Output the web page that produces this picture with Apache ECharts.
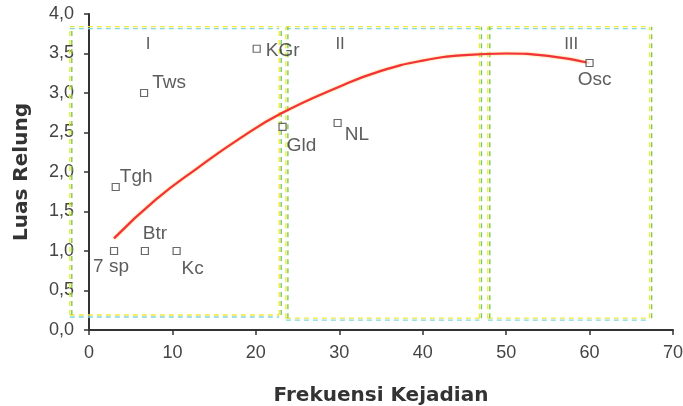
<!DOCTYPE html>
<html>
<head>
<meta charset="utf-8">
<script src="https://cdn.jsdelivr.net/npm/echarts@6/dist/echarts.min.js"></script>
<style>
  html, body { margin: 0; padding: 0; background: #fff; }
  #chart { width: 683px; height: 406px; }
</style>
</head>
<body>
<div id="chart"></div>
<script>
// Species observations: frequency of occurrence vs niche breadth
var speciesNames = ['7 sp', 'Btr', 'Kc', 'Tgh', 'Tws', 'KGr', 'Gld', 'NL', 'Osc'];
var speciesFreq  = [3, 6.7, 10.5, 3.2, 6.6, 20.1, 23.2, 29.8, 60];
var speciesNiche = [1.0, 1.0, 1.0, 1.81, 3.0, 3.56, 2.57, 2.62, 3.38];

var trendFreq  = [3, 8, 13, 18, 23, 30, 35, 40, 45, 50, 55, 60];
var trendNiche = [1.16, 1.65, 2.05, 2.42, 2.74, 3.08, 3.28, 3.41, 3.48, 3.5, 3.47, 3.38];

// Group boxes: [xStart, xEnd, yBottom, yTop]
var groupNames = ['I', 'II', 'III'];
var groupBoxes = [
  [-2.3, 22.8, 0.19, 3.84],
  [23.6, 46.8, 0.15, 3.84],
  [47.8, 67.2, 0.15, 3.84]
];
var groupLabelPos = [[7.1, 3.62], [30.1, 3.62], [57.8, 3.62]];

// Axis ticks
var xTicks = [0, 10, 20, 30, 40, 50, 60, 70];
var yTicks = [0, 0.5, 1, 1.5, 2, 2.5, 3, 3.5, 4];

var labelLayouts = {
  '7 sp': { position: 'bottom', distance: 2, offset: [-3, 0] },
  'Btr':  { position: 'top', distance: 4, offset: [10, 0] },
  'Kc':   { position: 'bottom', distance: 4, offset: [16, 0] },
  'Tgh':  { position: 'right', distance: 0, offset: [0, -10] },
  'Tws':  { position: 'right', distance: 4, offset: [0, -10] },
  'KGr':  { position: 'right', distance: 5, offset: [0, 2] },
  'Gld':  { position: 'bottom', distance: 5, offset: [19, 0] },
  'NL':   { position: 'right', distance: 3, offset: [0, 12] },
  'Osc':  { position: 'bottom', distance: 3, offset: [5, 0] }
};

var textFont = 'Liberation Sans, Arial, sans-serif';

var scatterData = speciesNames.map(function (n, i) {
  var l = labelLayouts[n];
  return {
    value: [speciesFreq[i], speciesNiche[i]],
    name: n,
    label: { show: true, formatter: n, position: l.position, distance: l.distance, offset: l.offset }
  };
});

var trendData = trendFreq.map(function (x, i) { return [x, trendNiche[i]]; });

// Dashed double-coloured outline for each group box
function renderBox(params, api) {
  var p0 = api.coord([api.value(0), api.value(2)]);
  var p1 = api.coord([api.value(1), api.value(3)]);
  var l = p0[0], r = p1[0], b = p0[1], t = p1[1];
  var dash = [5, 4];
  function seg(x1, y1, x2, y2, color) {
    return {
      type: 'line',
      shape: { x1: x1, y1: y1, x2: x2, y2: y2 },
      style: { stroke: color, lineWidth: 1.4, lineDash: dash, fill: null }
    };
  }
  return {
    type: 'group',
    children: [
      // horizontal edges: cyan under yellow
      seg(l, t + 2, r, t + 2, '#7fd6dc'),
      seg(l, b + 2, r, b + 2, '#7fd6dc'),
      seg(l, t, r, t, '#eeea3a'),
      seg(l, b, r, b, '#eeea3a'),
      // vertical edges: green beside yellow
      seg(l + 2, b, l + 2, t, '#7cc95a'),
      seg(r + 2, b, r + 2, t, '#7cc95a'),
      seg(l, b, l, t, '#eeea3a'),
      seg(r, b, r, t, '#eeea3a')
    ]
  };
}

var fmt = function (v) { return v.toFixed(1).replace('.', ','); };

var chart = echarts.init(document.getElementById('chart'), null, { renderer: 'canvas' });
chart.setOption({
  animation: false,
  backgroundColor: '#ffffff',
  grid: { left: 89, right: 10, top: 14, bottom: 76, containLabel: false, outerBoundsMode: 'none' },
  xAxis: {
    type: 'value', min: xTicks[0], max: xTicks[xTicks.length - 1], interval: 10,
    name: 'Frekuensi Kejadian', nameLocation: 'middle', nameGap: 56,
    nameTextStyle: { fontFamily: 'DejaVu Sans', fontWeight: 'bold', fontSize: 20, color: '#333' },
    axisLine: { show: true, lineStyle: { color: '#333', width: 2 } },
    axisTick: { show: true, inside: false, length: 5, lineStyle: { color: '#333', width: 1.5 } },
    axisLabel: { margin: 14, fontFamily: textFont, fontSize: 18, color: '#444' },
    splitLine: { show: false }
  },
  yAxis: {
    type: 'value', min: yTicks[0], max: yTicks[yTicks.length - 1], interval: 0.5,
    name: 'Luas Relung', nameLocation: 'middle', nameGap: 57, nameRotate: 90,
    nameTextStyle: { fontFamily: 'DejaVu Sans', fontWeight: 'bold', fontSize: 20, color: '#333' },
    axisLine: { show: true, lineStyle: { color: '#333', width: 2 } },
    axisTick: { show: true, inside: false, length: 5, lineStyle: { color: '#333', width: 1.5 } },
    axisLabel: { margin: 15, fontFamily: textFont, fontSize: 18, color: '#444', formatter: fmt },
    splitLine: { show: false }
  },
  series: [
    {
      type: 'custom', data: groupBoxes, renderItem: renderBox, clip: false, silent: true, z: 1,
      encode: { x: [0, 1], y: [2, 3] }
    },
    {
      type: 'line', data: trendData, smooth: true, symbol: 'none', z: 3, silent: true,
      lineStyle: { color: '#f2323c', width: 2.2,
        shadowColor: 'rgba(255,190,40,0.9)', shadowBlur: 2 }
    },
    {
      type: 'scatter', data: scatterData, symbol: 'rect', symbolSize: 7, z: 4,
      itemStyle: { color: '#fff', borderColor: '#444', borderWidth: 1.2 },
      label: { fontFamily: textFont, fontSize: 19, color: '#333' }
    },
    {
      type: 'scatter', symbolSize: 0, z: 4, silent: true,
      data: groupNames.map(function (n, i) {
        return { value: groupLabelPos[i], label: { show: true, formatter: n } };
      }),
      label: { position: 'inside', fontFamily: 'Liberation Sans Narrow, Liberation Sans', fontSize: 17, color: '#333' }
    }
  ]
});
</script>
</body>
</html>
